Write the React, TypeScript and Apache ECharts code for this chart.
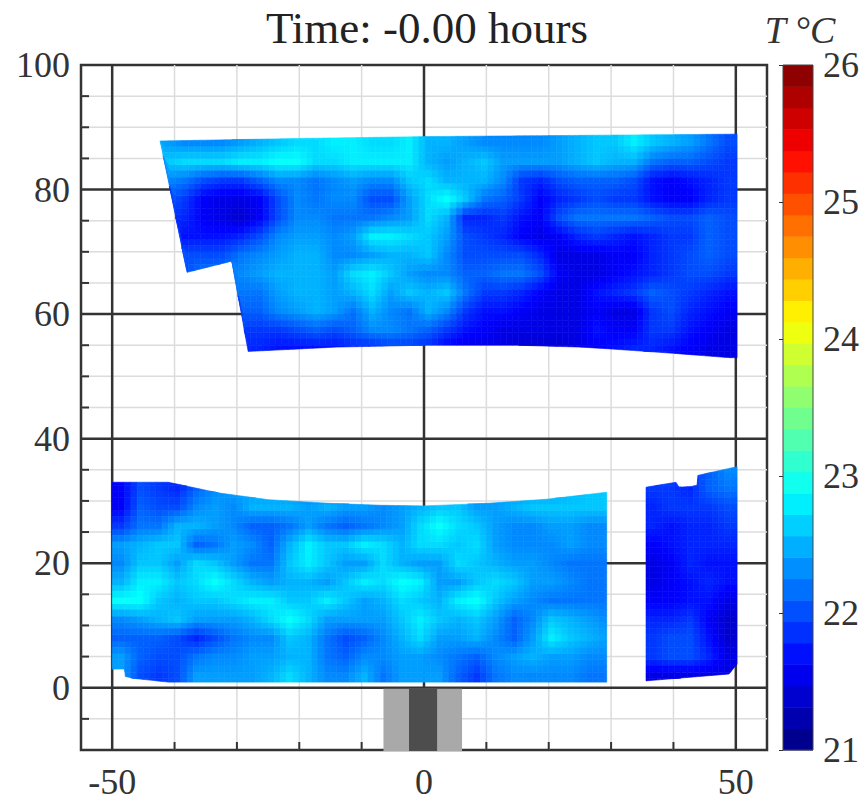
import React, { useEffect, useRef } from "react";
import * as echarts from "echarts";

const titleText = "Time: -0.00 hours";
const unitText = "T °C";
const xTickLabels = [-50, 0, 50];
const yTickLabels = [0, 20, 40, 60, 80, 100];
const colorbarTicks = [21, 22, 23, 24, 25, 26];
const xMajorLines = [-50, 0, 50];
const xMinorLines = [-40, -30, -20, -10, 10, 20, 30, 40];
const yMajorLines = [0, 20, 40, 60, 80];
const yMinorLines = [-5, 5, 10, 15, 25, 30, 35, 45, 50, 55, 65, 70, 75, 85, 90, 95];
const barOuter = [-6.5, 6.1];
const barInner = [-2.4, 2.1];

// outline of the three measured patches: [x, y]
const upperTop = [[-42.3, 87.8], [-20, 88.2], [0, 88.5], [50.2, 88.9]];
const upperBottom = [[-42.3, 87.8], [-38, 66.7], [-30.8, 68.5], [-28.2, 54], [-14, 54.7], [0, 55], [15, 55], [25, 54.7], [30, 54.4], [40, 53.7], [50.2, 52.9]];
const lowerTop = [[-50, 33], [-41, 33], [-33, 31.3], [-25, 30.2], [-15, 29.6], [-7, 29.3], [0, 29.2], [10, 29.6], [20, 30.3], [29.3, 31.4]];
const lowerBottom = [[-50, 3], [-48, 3], [-47.9, 1.8], [-46.5, 1.5], [-41, 0.9], [29.3, 0.9]];
const rightTop = [[35.6, 32.2], [40.4, 33], [40.9, 32.2], [43.8, 32.4], [43.9, 34.1], [50.2, 35.5]];
const rightBottom = [[35.6, 1.1], [48.9, 2.2], [50.2, 3.8]];

// temperatures, rows listed from top to bottom; each row holds cells 3 units wide
const upperRows = [
  [22.4,22.3,22.3,22.3,22.4,22.5,22.6,22.7,22.7,22.8,22.8,22.7,22.7,22.8,22.5,22.5,22.4,22.3,22.3,22.3,22.3,22.4,22.5,22.6,22.6,22.8,22.6,22.5,22.4,22.2,22.0],
  [22.6,22.7,22.7,22.7,22.8,22.8,22.9,22.9,22.7,22.7,22.8,22.8,22.8,22.8,22.5,22.4,22.5,22.6,22.4,22.4,22.4,22.4,22.5,22.6,22.5,22.5,22.2,22.1,22.1,22.0,21.9],
  [22.3,22.2,22.0,21.9,21.9,22.1,22.3,22.3,22.2,22.3,22.4,22.3,22.3,22.6,22.7,22.5,22.5,22.5,22.3,21.9,21.8,22.0,22.1,22.1,22.1,22.0,21.7,21.6,21.7,21.8,21.9],
  [22.1,21.9,21.6,21.5,21.5,21.6,22.0,22.3,22.2,22.3,22.3,22.0,22.0,22.4,22.7,22.9,22.6,22.2,22.1,21.9,21.6,21.8,21.9,22.0,21.9,21.9,21.7,21.6,21.6,21.8,21.9],
  [21.9,21.8,21.6,21.5,21.4,21.6,22.0,22.3,22.3,22.2,22.2,22.2,22.3,22.4,22.7,22.5,21.8,21.8,21.9,21.7,21.6,22.0,22.2,22.2,22.2,22.2,22.1,22.0,22.0,22.1,22.0],
  [21.8,21.7,21.7,21.7,21.8,22.0,22.3,22.4,22.4,22.3,22.4,22.8,22.8,22.7,22.6,22.4,22.0,21.9,21.8,21.6,21.5,21.6,21.8,21.9,21.8,21.7,21.8,21.9,21.9,22.1,22.0],
  [22.0,22.0,22.0,22.0,22.2,22.3,22.4,22.5,22.5,22.3,22.3,22.4,22.5,22.5,22.6,22.3,22.0,22.0,22.0,22.0,21.8,21.5,21.5,21.5,21.6,21.6,21.8,21.9,22.0,22.1,22.0],
  [22.0,22.0,22.2,22.2,22.3,22.4,22.5,22.5,22.5,22.4,22.7,22.8,22.6,22.4,22.3,22.3,22.1,22.1,22.2,22.2,22.0,21.6,21.5,21.5,21.6,21.7,21.8,21.9,22.0,22.0,21.9],
  [22.2,22.2,22.2,22.2,22.2,22.2,22.4,22.5,22.5,22.4,22.5,22.7,22.4,22.6,22.5,22.6,22.2,21.9,21.9,21.8,21.6,21.5,21.5,21.7,21.8,21.9,22.1,22.0,21.9,21.8,21.7],
  [22.1,22.1,22.1,22.1,22.1,22.1,22.3,22.4,22.5,22.4,22.2,22.5,22.3,22.2,22.5,22.3,21.9,21.7,21.7,21.6,21.5,21.5,21.5,21.6,21.5,21.5,21.9,22.0,21.8,21.7,21.6],
  [21.9,21.9,21.9,21.9,21.9,21.9,21.9,22.0,22.1,22.0,22.1,22.3,22.3,22.2,22.1,21.9,21.7,21.6,21.5,21.5,21.5,21.5,21.5,21.7,21.6,21.6,21.9,21.9,21.7,21.6,21.5],
  [21.8,21.8,21.8,21.8,21.8,21.8,21.7,21.7,21.7,21.7,21.8,21.8,21.9,21.9,21.8,21.6,21.5,21.5,21.5,21.4,21.4,21.4,21.5,21.6,21.7,21.8,21.8,21.7,21.6,21.5,21.5],
];
const lowerRows = [
  [21.6,22.0,21.9,21.8,22.1,22.3,22.4,22.4,22.4,22.4,22.3,22.3,22.3,22.3,22.3,22.3,22.3,22.3,22.3,22.3,22.4,22.4,22.4,22.4,22.5,22.6,22.6],
  [21.6,22.1,22.0,22.0,22.3,22.4,22.3,22.5,22.5,22.5,22.4,22.5,22.4,22.4,22.3,22.4,22.5,22.6,22.6,22.4,22.4,22.5,22.6,22.6,22.6,22.6,22.6],
  [21.9,22.2,22.2,22.5,22.5,22.4,22.3,22.1,22.1,22.2,22.4,22.2,22.1,22.2,22.3,22.4,22.7,22.9,22.7,22.6,22.4,22.3,22.3,22.4,22.4,22.3,22.3],
  [22.4,22.5,22.6,22.6,22.1,22.2,22.4,22.3,22.1,22.5,22.8,22.6,22.6,22.8,22.7,22.5,22.7,22.7,22.6,22.7,22.4,22.3,22.3,22.3,22.4,22.3,22.3],
  [22.3,22.6,22.6,22.4,22.7,22.6,22.4,22.2,22.2,22.6,22.8,22.6,22.4,22.4,22.7,22.5,22.4,22.4,22.7,22.6,22.5,22.4,22.4,22.3,22.2,22.2,22.2],
  [22.5,22.8,22.8,22.6,22.7,22.9,22.7,22.5,22.4,22.5,22.5,22.4,22.6,22.8,22.7,22.9,22.8,22.4,22.4,22.6,22.7,22.6,22.4,22.4,22.3,22.2,22.2],
  [22.9,22.9,22.6,22.5,22.6,22.6,22.7,22.8,22.8,22.6,22.6,22.8,22.6,22.4,22.5,22.7,22.6,22.5,22.8,22.9,22.6,22.4,22.3,22.2,22.2,22.2,22.2],
  [22.3,22.4,22.5,22.6,22.4,22.4,22.4,22.5,22.7,22.9,22.7,22.4,22.4,22.4,22.4,22.6,22.8,22.6,22.5,22.6,22.4,22.1,22.3,22.6,22.5,22.4,22.3],
  [22.1,22.1,22.1,22.0,21.8,22.0,22.2,22.3,22.3,22.6,22.5,22.2,22.0,22.1,22.3,22.5,22.7,22.4,22.4,22.5,22.3,22.1,22.4,22.8,22.6,22.5,22.4],
  [22.4,22.1,22.0,22.0,22.2,22.3,22.3,22.4,22.4,22.5,22.5,22.2,22.1,22.3,22.3,22.4,22.4,22.3,22.2,22.1,22.3,22.4,22.5,22.4,22.4,22.3,22.3],
  [22.4,22.0,21.9,22.0,22.4,22.4,22.4,22.4,22.5,22.7,22.5,22.3,22.3,22.5,22.2,22.4,22.4,22.4,22.1,21.9,22.2,22.3,22.3,22.3,22.3,22.2,22.2],
];
const rightRows = [
  [21.9,21.9,21.9,22.1,22.3],
  [21.9,21.9,21.8,22.1,22.2],
  [21.8,21.9,21.9,21.9,22.0],
  [21.8,21.7,21.8,21.8,21.9],
  [21.6,21.7,21.8,21.8,21.8],
  [21.5,21.6,21.8,21.7,21.7],
  [21.5,21.6,21.7,21.8,21.7],
  [21.6,21.6,21.7,21.7,21.5],
  [21.8,21.8,21.9,21.6,21.4],
  [21.9,22.0,22.0,21.7,21.4],
  [21.9,22.0,22.0,21.8,21.5],
  [21.5,21.5,21.5,21.5,21.5],
];

const FONT = '"Liberation Serif", serif';
const clip01 = (v: number) => Math.max(0, Math.min(1, v));
const jet = (t: number) => {
  const c = (o: number) => Math.round(255 * clip01(1.5 - Math.abs(4 * t - o)));
  return `rgb(${c(3)},${c(2)},${c(1)})`;
};
const colorOf = (T: number) => jet((T - 21) / 5);

const interp = (pts: number[][], x: number) => {
  if (x <= pts[0][0]) return pts[0][1];
  for (let i = 1; i < pts.length; i++) {
    if (x <= pts[i][0]) {
      const [a, b] = pts[i - 1];
      const [c, d] = pts[i];
      return b + ((d - b) * (x - a)) / (c - a || 1);
    }
  }
  return pts[pts.length - 1][1];
};

type Patch = { rows: number[][]; x0: number; y0: number; top: number[][]; bottom: number[][] };
const patches: Patch[] = [
  { rows: upperRows, x0: -42.8, y0: 53, top: upperTop, bottom: upperBottom },
  { rows: lowerRows, x0: -50, y0: 0.5, top: lowerTop, bottom: lowerBottom },
  { rows: rightRows, x0: 35.2, y0: 0.5, top: rightTop, bottom: rightBottom },
];
const CELL = 3;
const SHADE = 3; // each read cell is painted with interpolated shading, as a pcolor with "shading interp"

const cellData: number[][] = [];
patches.forEach((p, pi) => {
  p.rows.forEach((row, r) => {
    row.forEach((v, c) => {
      const yIndex = p.rows.length - 1 - r;
      cellData.push([p.x0 + c * CELL, p.y0 + yIndex * CELL, v, pi]);
    });
  });
});

const clipToPatch = (pi: number, x: number, y: number, w: number, h: number) => {
  const p = patches[pi];
  const xMin = p.top[0][0];
  const xMax = p.top[p.top.length - 1][0];
  const a = Math.max(x, xMin);
  const b = Math.min(x + w, xMax);
  if (b <= a) return null;
  const xs = [a, b];
  [...p.top, ...p.bottom].forEach((q) => {
    if (q[0] > a && q[0] < b) xs.push(q[0]);
  });
  xs.sort((m, n) => m - n);
  const lower: number[][] = [];
  const upper: number[][] = [];
  let maxH = 0;
  xs.forEach((px) => {
    const t = interp(p.top, px);
    const f = interp(p.bottom, px);
    const lo = Math.min(t, Math.max(f, y));
    const hi = Math.min(t, Math.max(f, y + h));
    maxH = Math.max(maxH, hi - lo);
    lower.push([px, lo]);
    upper.unshift([px, hi]);
  });
  if (maxH < 0.01) return null;
  return [...lower, ...upper];
};

const shadeAt = (pi: number, x: number, y: number) => {
  const p = patches[pi];
  const nr = p.rows.length;
  const nc = p.rows[0].length;
  const u = Math.max(0, Math.min(nc - 1, (x - p.x0) / CELL - 0.5));
  const v = Math.max(0, Math.min(nr - 1, (y - p.y0) / CELL - 0.5));
  const c0 = Math.floor(u);
  const r0 = Math.floor(v);
  const c1 = Math.min(nc - 1, c0 + 1);
  const r1 = Math.min(nr - 1, r0 + 1);
  const fu = u - c0;
  const fv = v - r0;
  const at = (r: number, c: number) => p.rows[nr - 1 - r][c];
  return (
    at(r0, c0) * (1 - fu) * (1 - fv) + at(r0, c1) * fu * (1 - fv) + at(r1, c0) * (1 - fu) * fv + at(r1, c1) * fu * fv
  );
};

const lineData: number[][] = [
  ...xMinorLines.map((v) => [v, -10, v, 100, 0]),
  ...yMinorLines.map((v) => [-55, v, 55, v, 0]),
  ...xMajorLines.map((v) => [v, -10, v, 100, 1]),
  ...yMajorLines.map((v) => [-55, v, 55, v, 1]),
];

const barData = [
  [barOuter[0], barOuter[1], "#a9a9a9"],
  [barInner[0], barInner[1], "#4d4d4d"],
];

const levelData: number[][] = [];
for (let k = 0; k < 32; k++) levelData.push([21 + (5 * k) / 32, 21 + (5 * (k + 1)) / 32]);

const tickX = [-40, -30, -20, -10, 10, 20, 30, 40];
const tickY = [-5, 5, 10, 15, 25, 30, 35, 45, 50, 55, 65, 70, 75, 85, 90, 95];

export default function App() {
  const ref = useRef<HTMLDivElement>(null);
  useEffect(() => {
    document.body.style.margin = "0";
    const chart = echarts.init(ref.current!, undefined, { renderer: "svg" });
    const ink = "#333333";
    chart.setOption({
      animation: false,
      backgroundColor: "#ffffff",
      title: [
        { text: titleText, left: 422, top: 0, textAlign: "center", textStyle: { fontFamily: FONT, fontWeight: "normal", fontSize: 45, color: "#222" } },
        { text: unitText, left: 795, top: 6, textAlign: "center", textStyle: { fontFamily: FONT, fontWeight: "normal", fontStyle: "italic", fontSize: 38, color: "#333" } },
      ],
      grid: [
        { left: 81, top: 65, width: 686, height: 685, show: true, borderColor: ink, borderWidth: 2.5, backgroundColor: "#fff", containLabel: false },
        { left: 783, top: 65, width: 30, height: 685, show: false, containLabel: false },
      ],
      xAxis: [
        {
          gridIndex: 0, type: "value", min: -55, max: 55, interval: 5,
          axisLine: { show: false }, axisTick: { show: false }, splitLine: { show: false },
          axisLabel: {
            fontFamily: FONT, fontSize: 36, color: "#333", margin: 14, hideOverlap: false,
            showMinLabel: false, showMaxLabel: false,
            formatter: (v: number) => (xTickLabels.includes(v) ? String(v) : ""),
          },
        },
        { gridIndex: 1, type: "value", min: 0, max: 1, show: false },
      ],
      yAxis: [
        {
          gridIndex: 0, type: "value", min: -10, max: 100, interval: 5,
          axisLine: { show: false }, axisTick: { show: false }, splitLine: { show: false },
          axisLabel: {
            fontFamily: FONT, fontSize: 36, color: "#333", margin: 11, hideOverlap: false,
            formatter: (v: number) => (yTickLabels.includes(v) ? String(v) : ""),
          },
        },
        {
          gridIndex: 1, type: "value", min: 21, max: 26, interval: 1, position: "right", z: 10,
          axisLine: { show: false },
          axisTick: { show: true, inside: true, length: 4, lineStyle: { color: "#333", width: 1 } },
          splitLine: { show: false },
          axisLabel: {
            fontFamily: FONT, fontSize: 36, color: "#333", margin: 10,
            formatter: (v: number) => (colorbarTicks.includes(v) ? String(v) : ""),
          },
        },
      ],
      series: [
        {
          type: "custom", xAxisIndex: 0, yAxisIndex: 0, clip: false, silent: true, z: 1,
          data: lineData,
          renderItem: (_: any, api: any) => {
            const a = api.coord([api.value(0), api.value(1)]);
            const b = api.coord([api.value(2), api.value(3)]);
            const major = api.value(4) === 1;
            return {
              type: "line",
              shape: { x1: a[0], y1: a[1], x2: b[0], y2: b[1] },
              style: { stroke: major ? ink : "#dcdcdc", lineWidth: major ? 2.5 : 1.5 },
            };
          },
        },
        {
          type: "custom", xAxisIndex: 0, yAxisIndex: 0, clip: false, silent: true, z: 1,
          data: [...tickX.map((v) => [v, -10, 0]), ...tickY.map((v) => [-55, v, 1])],
          renderItem: (_: any, api: any) => {
            const a = api.coord([api.value(0), api.value(1)]);
            const horizontal = api.value(2) === 1;
            return {
              type: "line",
              shape: { x1: a[0], y1: a[1], x2: a[0] + (horizontal ? 8 : 0), y2: a[1] - (horizontal ? 0 : 8) },
              style: { stroke: ink, lineWidth: 2 },
            };
          },
        },
        {
          type: "custom", xAxisIndex: 0, yAxisIndex: 0, clip: false, silent: true, z: 3,
          data: cellData,
          renderItem: (_: any, api: any) => {
            const pi = api.value(3);
            const x = api.value(0);
            const y = api.value(1);
            const step = CELL / SHADE;
            const children: any[] = [];
            for (let i = 0; i < SHADE; i++) {
              for (let j = 0; j < SHADE; j++) {
                const sx = x + i * step;
                const sy = y + j * step;
                const poly = clipToPatch(pi, sx, sy, step, step);
                if (!poly) continue;
                const c = colorOf(shadeAt(pi, sx + step / 2, sy + step / 2));
                children.push({
                  type: "polygon",
                  shape: { points: poly.map((q) => api.coord(q)) },
                  style: { fill: c, stroke: c, lineWidth: 0.6 },
                });
              }
            }
            return children.length ? { type: "group", children } : null;
          },
        },
        {
          type: "custom", xAxisIndex: 0, yAxisIndex: 0, clip: false, silent: true, z: 4,
          data: barData,
          renderItem: (_: any, api: any) => {
            const a = api.coord([api.value(0), 0]);
            const b = api.coord([api.value(1), -10]);
            return {
              type: "rect",
              shape: { x: a[0], y: a[1] + 1, width: b[0] - a[0], height: b[1] - a[1] },
              style: { fill: api.value(2) },
            };
          },
          encode: { x: 0 },
        },
        {
          type: "custom", xAxisIndex: 1, yAxisIndex: 1, clip: false, silent: true, z: 3,
          data: levelData,
          renderItem: (_: any, api: any) => {
            const a = api.coord([0, api.value(1)]);
            const b = api.coord([1, api.value(0)]);
            const lo = api.value(0);
            return {
              type: "rect",
              shape: { x: a[0], y: a[1], width: b[0] - a[0], height: b[1] - a[1] + 0.5 },
              style: { fill: jet(((lo - 21) / 5) + 1 / 64) },
            };
          },
          encode: { y: [0, 1] },
        },
        {
          type: "custom", xAxisIndex: 1, yAxisIndex: 1, clip: false, silent: true, z: 5,
          data: [[0, 21, 1, 26]],
          renderItem: (_: any, api: any) => {
            const a = api.coord([api.value(0), api.value(3)]);
            const b = api.coord([api.value(2), api.value(1)]);
            return {
              type: "rect",
              shape: { x: a[0], y: a[1], width: b[0] - a[0], height: b[1] - a[1] },
              style: { fill: "none", stroke: "#444", lineWidth: 1 },
            };
          },
        },
      ],
    });
    return () => chart.dispose();
  }, []);
  return <div ref={ref} style={{ width: 864, height: 802, position: "absolute", left: 0, top: 0 }} />;
}
